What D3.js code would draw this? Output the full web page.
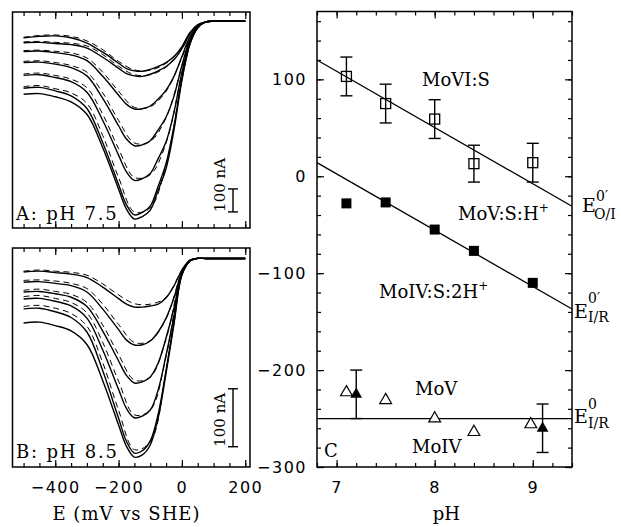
<!DOCTYPE html>
<html><head><meta charset="utf-8">
<script src="https://cdn.jsdelivr.net/npm/d3@7"></script>
<style>body{margin:0;background:#fff}svg{display:block}</style>
</head><body><svg id="c" width="621" height="527"></svg>
<script>
// ---------- data: left panels (E in mV vs SHE, current in nA) ----------
const fitGrid = [-500,-450,-400,-350,-300,-250,-200,-175,-150,-125,-100,-75,-50,-25,0,25,50,75,100,150,200];
const dataGrid = [-500,-450,-400,-350,-300,-250,-200,-150,-100,-50,0,25];
const potentialTicks = [-400,-200,0,200];

// Panel A, pH 7.5 (fits)
const fitA1 = [-72,-66,-64,-72,-95,-135,-183,-206,-216,-218,-210,-197,-180,-154,-111,-50,-16,-3,0,0,0];
const fitA2 = [-94,-92,-97,-102,-117,-157,-205,-228,-238,-240,-231,-216,-197,-167,-119,-55,-16,-3,0,0,0];
const fitA3 = [-132,-130,-137,-147,-172,-240,-322,-362,-382,-381,-369,-339,-300,-240,-154,-68,-20,-3,0,0,0];
const fitA4 = [-180,-178,-187,-202,-238,-336,-455,-513,-542,-538,-520,-473,-417,-326,-193,-81,-25,-3,0,0,0];
const fitA5 = [-236,-233,-245,-263,-309,-432,-583,-656,-693,-685,-663,-598,-525,-396,-223,-89,-25,-3,0,0,0];
const fitA6 = [-292,-288,-303,-325,-380,-529,-711,-799,-843,-832,-805,-718,-619,-456,-249,-98,-29,-3,0,0,0];
const fitA7 = [-318,-315,-329,-351,-405,-551,-731,-818,-861,-850,-822,-735,-641,-473,-257,-102,-29,-3,0,0,0];
// Panel A (measured, dashed)
const dataA1 = [-70,-62,-60,-66,-86,-124,-175,-212,-213,-183,-114,-52];
const dataA2 = [-90,-88,-92,-96,-108,-145,-196,-233,-233,-200,-121,-56];
const dataA3 = [-128,-126,-131,-138,-160,-222,-305,-375,-372,-305,-158,-70];
const dataA4 = [-175,-172,-180,-193,-222,-312,-432,-530,-523,-420,-196,-82];
const dataA5 = [-230,-226,-236,-252,-290,-405,-555,-680,-668,-530,-226,-90];
const dataA6 = [-285,-280,-294,-312,-358,-498,-680,-830,-812,-625,-252,-99];

// Panel B, pH 8.5 (fits)
const fitB1 = [-23.5,-22,-24.5,-27,-33,-49.5,-69.5,-79,-84,-84,-82,-79,-68,-47.5,-20,-3,0,0,0,0,0];
const fitB2 = [-41,-40,-43,-47,-58,-87.5,-123,-141,-149.5,-149,-142.5,-127,-103,-68,-23.5,-3.6,0,0,0,0,0];
const fitB3 = [-58,-57,-61,-67,-83,-125.5,-177,-202,-215,-213,-204.5,-180.5,-137,-85.6,-25,-3.6,0,0,0,0,0];
const fitB4 = [-70,-69,-74,-82,-103,-158,-226,-259,-275,-272,-261.7,-227,-166.7,-99.4,-27,-4.5,0,0,0,0,0];
const fitB5 = [-87,-86,-92,-102,-127,-194,-276,-316,-336,-332,-315,-268.6,-192.6,-109.8,-27,-4.5,0,0,0,0,0];
const fitB6 = [-111.5,-110,-116,-125,-148.5,-211,-287.5,-324.5,-343,-339,-322,-275,-197.8,-113,-28.7,-4.5,0,0,0,0,0];
// Panel B (measured, dashed)
const dataB1 = [-22,-20,-22,-24,-29,-44,-63,-78,-79,-67,-20,-3];
const dataB2 = [-38,-37,-39,-43,-52,-79,-114,-145,-142,-104,-24,-4];
const dataB3 = [-55,-53,-57,-62,-76,-115,-166,-210,-205,-139,-26,-4];
const dataB4 = [-66,-64,-69,-76,-94,-145,-212,-270,-262,-169,-28,-5];
const dataB5 = [-83,-81,-86,-95,-117,-180,-262,-330,-317,-195,-28,-5];

// ---------- data: panel C (E in mV vs pH) ----------
const pHTicks = [7,8,9];
const potentialTicksC = [-300,-200,-100,0,100];
const moviPH = [7.1,7.5,8.0,8.4,9.0];
const moviE = [103,75,59,13,14];
const moviErr = [20,20,20,19,20];
const movPH = [7.1,7.5,8.0,8.4,9.0];
const movE = [-28,-27,-55,-77,-110];
const redOpenPH = [7.1,7.5,8.0,8.4,8.98];
const redOpenE = [-223,-231,-250,-264,-256];
const redFillPH = [7.2,9.1];
const redFillE = [-225,-260];
const redFillErr = [25,25];
const fitOI = [[6.8,120],[9.4,-31]];
const fitIR = [[6.8,14],[9.4,-137]];
const fitIR0 = [[6.8,-250],[9.4,-250]];

// ---------- drawing ----------
const SERIF = "'DejaVu Serif', serif";
const SANS = "'DejaVu Sans', sans-serif";
const svg = d3.select("#c");

const xE = d3.scaleLinear().domain([-535,215]).range([12.5,250]);
const yA = d3.scaleLinear().domain([-900,40]).range([228,12]);
const yB = d3.scaleLinear().domain([-360,18]).range([467,248]);
const xC = d3.scaleLinear().domain([6.8,9.4]).range([317,572]);
const yC = d3.scaleLinear().domain([-300,170]).range([467,11.5]);

function styleAxis(g, labels){
  g.select(".domain").remove();
  g.selectAll(".tick line").attr("stroke","#000").attr("stroke-width",1.2);
  g.selectAll("text").attr("fill","#000").style("font-family",SANS).style("font-size","16px").style("letter-spacing","1.5px");
  if(!labels) g.selectAll("text").remove();
}
function addAxis(axis, tx, ty, labels){
  svg.append("g").attr("transform",`translate(${tx},${ty})`).call(axis).call(g=>styleAxis(g,labels));
}

const minorE = d3.range(-500,201,50);

function leftPanel(y, fits, datas, label, labelY, bar){
  const [yb, yt] = y.range();
  addAxis(d3.axisBottom(xE).tickValues(minorE).tickSize(-4).tickFormat(""),0,yb,false);
  addAxis(d3.axisBottom(xE).tickValues(potentialTicks).tickSize(-7).tickFormat(""),0,yb,false);
  addAxis(d3.axisTop(xE).tickValues(minorE).tickSize(-4).tickFormat(""),0,yt,false);
  addAxis(d3.axisTop(xE).tickValues(potentialTicks).tickSize(-7).tickFormat(""),0,yt,false);
  const g = svg.append("g");
  const fitLine = d3.line().x((d,i)=>xE(fitGrid[i])).y(d=>y(d)).curve(d3.curveCatmullRom.alpha(0.5));
  const dataLine = d3.line().x((d,i)=>xE(dataGrid[i])).y(d=>y(d)).curve(d3.curveCatmullRom.alpha(0.5));
  datas.forEach(d=>g.append("path").attr("d",dataLine(d)).attr("fill","none").attr("stroke","#000")
    .attr("stroke-width",1).attr("stroke-dasharray","6,4"));
  fits.forEach(d=>g.append("path").attr("d",fitLine(d)).attr("fill","none").attr("stroke","#000").attr("stroke-width",1.4));
  svg.append("rect").attr("x",xE.range()[0]).attr("y",yt).attr("width",xE.range()[1]-xE.range()[0])
    .attr("height",yb-yt).attr("fill","none").attr("stroke","#000").attr("stroke-width",1.5);
  svg.append("text").attr("x",16).attr("y",labelY).text(label)
    .style("font-family",SERIF).style("font-size","18px").style("letter-spacing","1.8px");
  const bx = 233, b0 = y(bar[0]), b1 = y(bar[1]);
  const sb = svg.append("g").attr("stroke","#000").attr("stroke-width",1.4);
  sb.append("line").attr("x1",bx).attr("x2",bx).attr("y1",b0).attr("y2",b1);
  sb.append("line").attr("x1",bx-5).attr("x2",bx+5).attr("y1",b0).attr("y2",b0);
  sb.append("line").attr("x1",bx-5).attr("x2",bx+5).attr("y1",b1).attr("y2",b1);
  svg.append("text").attr("transform",`translate(225,${Math.max(b0,b1)}) rotate(-90)`).text("100 nA")
    .style("font-family",SERIF).style("font-size","15px");
}

leftPanel(yA,[fitA1,fitA2,fitA3,fitA4,fitA5,fitA6,fitA7],[dataA1,dataA2,dataA3,dataA4,dataA5,dataA6],"A: pH 7.5",220,[-730,-830]);
leftPanel(yB,[fitB1,fitB2,fitB3,fitB4,fitB5,fitB6],[dataB1,dataB2,dataB3,dataB4,dataB5],"B: pH 8.5",458,[-225,-325]);

addAxis(d3.axisBottom(xE).tickValues(potentialTicks).tickSize(0).tickPadding(15),0,467,true);
svg.append("text").attr("x",xE(-175)).attr("y",520).attr("text-anchor","middle").text("E (mV vs SHE)")
  .style("font-family",SERIF).style("font-size","18px").style("letter-spacing","1px");

// ---------- panel C ----------
const minorPH = d3.range(34,48).map(v=>v/5);
const minorEC = d3.range(-300,171,20);
addAxis(d3.axisLeft(yC).tickValues(minorEC).tickSize(-4).tickFormat(""),317,0,false);
addAxis(d3.axisLeft(yC).tickValues(potentialTicksC).tickSize(-7).tickPadding(10),317,0,true);
addAxis(d3.axisRight(yC).tickValues(minorEC).tickSize(-4).tickFormat(""),572,0,false);
addAxis(d3.axisRight(yC).tickValues(potentialTicksC).tickSize(-7).tickFormat(""),572,0,false);
addAxis(d3.axisBottom(xC).tickValues(minorPH).tickSize(-4).tickFormat(""),0,467,false);
addAxis(d3.axisBottom(xC).tickValues(pHTicks).tickSize(-7).tickPadding(15).tickFormat(d3.format("d")),0,467,true);
addAxis(d3.axisTop(xC).tickValues(minorPH).tickSize(-4).tickFormat(""),0,11.5,false);
addAxis(d3.axisTop(xC).tickValues(pHTicks).tickSize(-7).tickFormat(""),0,11.5,false);

const gc = svg.append("g");
const lineC = d3.line().x(d=>xC(d[0])).y(d=>yC(d[1]));
[fitOI,fitIR,fitIR0].forEach(f=>gc.append("path").attr("d",lineC(f)).attr("stroke","#000").attr("stroke-width",1.3).attr("fill","none"));

function errBars(ph, e, err){
  ph.forEach((p,i)=>{
    const x = xC(p), y0 = yC(e[i]-err[i]), y1 = yC(e[i]+err[i]);
    const g = gc.append("g").attr("stroke","#000").attr("stroke-width",1.4);
    g.append("line").attr("x1",x).attr("x2",x).attr("y1",y0).attr("y2",y1);
    g.append("line").attr("x1",x-6).attr("x2",x+6).attr("y1",y0).attr("y2",y0);
    g.append("line").attr("x1",x-6).attr("x2",x+6).attr("y1",y1).attr("y2",y1);
  });
}
errBars(moviPH,moviE,moviErr);
errBars(redFillPH,redFillE,redFillErr);

moviPH.forEach((p,i)=>gc.append("rect").attr("x",xC(p)-5).attr("y",yC(moviE[i])-5).attr("width",10).attr("height",10)
  .attr("fill","none").attr("stroke","#000").attr("stroke-width",1.3));
movPH.forEach((p,i)=>gc.append("rect").attr("x",xC(p)-5).attr("y",yC(movE[i])-5).attr("width",10).attr("height",10).attr("fill","#000"));
const tri = d3.symbol(d3.symbolTriangle,60);
redOpenPH.forEach((p,i)=>gc.append("path").attr("d",tri()).attr("transform",`translate(${xC(p)},${yC(redOpenE[i])})`)
  .attr("fill","#fff").attr("stroke","#000").attr("stroke-width",1.2));
redFillPH.forEach((p,i)=>gc.append("path").attr("d",tri()).attr("transform",`translate(${xC(p)},${yC(redFillE[i])})`).attr("fill","#000"));

svg.append("rect").attr("x",317).attr("y",11.5).attr("width",255).attr("height",455.5)
  .attr("fill","none").attr("stroke","#000").attr("stroke-width",1.5);

function txt(x,y,s,size,anchor){
  return svg.append("text").attr("x",x).attr("y",y).attr("text-anchor",anchor||"start").text(s)
    .style("font-family",SERIF).style("font-size",(size||18)+"px");
}
txt(xC(8.12),520,"pH",18,"middle");
txt(324,457,"C",18);
txt(422,86,"MoVI:S",18);
const t1 = txt(458,220,"MoV:S:H",18); t1.append("tspan").attr("dy",-8).style("font-size","12px").text("+");
const t2 = txt(379,298,"MoIV:S:2H",18); t2.append("tspan").attr("dy",-8).style("font-size","12px").text("+");
txt(415,395,"MoV",18);
txt(412,453,"MoIV",18);

// right-hand labels
txt(582,212,"E",19); txt(596,201,"0′",14); txt(594,219,"O/I",14);
txt(574,318,"E",19); txt(588,303,"0′",14); txt(588,322,"I/R",14);
txt(574,423,"E",19); txt(588,409,"0",14); txt(588,428,"I/R",14);
</script></body></html>
